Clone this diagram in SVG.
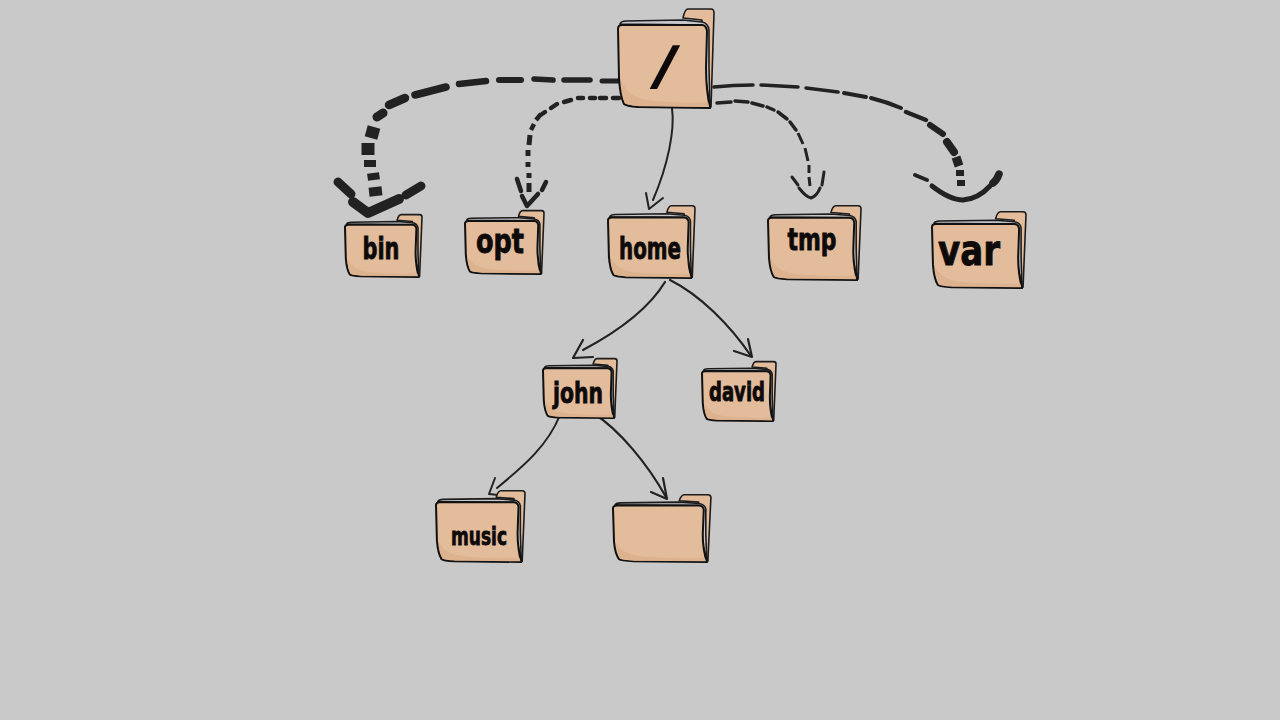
<svg xmlns="http://www.w3.org/2000/svg" width="1280" height="720" viewBox="0 0 1280 720">
<style>
.back{fill:#e3bc9c;stroke:#1c1c1c;stroke-width:1.6;stroke-linejoin:round;vector-effect:non-scaling-stroke}
.page{fill:#c6c6cb;stroke:#1c1c1c;stroke-width:1.6;stroke-linejoin:round;vector-effect:non-scaling-stroke}
.front{fill:#e3bc9c;stroke:#111;stroke-width:2;stroke-linejoin:round;vector-effect:non-scaling-stroke}
.shade{fill:#dcb28f}
.t{font-family:"DejaVu Sans","Liberation Sans",sans-serif;font-stretch:condensed;font-weight:700;fill:#0e0a0a;text-anchor:middle;stroke:#0e0a0a;stroke-width:.8}
#connectors path{fill:none;stroke:#222;stroke-linecap:round;stroke-linejoin:round}
#connectors path.b{stroke-linecap:butt}
</style>
<defs>
<g id="folder">
<path class="back" d="M65 10C66 5 67 1 70 1L93 1Q96 1 96 5L93 99L85 60L84 12Z"/>
<path class="page" d="M2 16Q3 13 8 13L65 12L84 14Q90 15 91 22L91 60L92 100L86 60L84 17Z"/>
<path class="front" d="M0 21Q0 17 4 17L84 17Q88 17 89 23L88 60Q88 82 92 100L20 99Q8 98 6 96Q2 88 1 70Z"/>
<path class="shade" d="M3 72Q10 90 30 92Q60 96 90 94L91 99L20 98Q9 97 7 95Q4 88 3 72Z"/>
</g>
</defs>
<rect width="1280" height="720" fill="#c9c9c9"/>
<g id="connectors">
<g id="c-bin">
<path style="stroke-width:5" d="M619 81L602 81"/><path style="stroke-width:5.5" d="M590 80L564 80"/><path style="stroke-width:5.5" d="M553 80L534 79"/><path style="stroke-width:6" d="M521 80L499 80"/><path style="stroke-width:6.5" d="M486 81L459 84"/><path style="stroke-width:7.5" d="M446 87L415 95"/><path style="stroke-width:8.5" d="M405 98L389 105"/><path style="stroke-width:9" d="M383 113L377 117"/><path class="b" style="stroke-width:13" d="M374 127L371 138"/><path class="b" style="stroke-width:13" d="M368 143L368 155"/><path class="b" style="stroke-width:12" d="M370 160L370 167"/><path class="b" style="stroke-width:12" d="M373 173L374 180"/><path class="b" style="stroke-width:13" d="M375 187L376 196"/>
<path style="stroke-width:9" d="M338 182L351 194"/><path style="stroke-width:10" d="M353 202L368 213L399 199"/><path style="stroke-width:9" d="M406 195L421 186"/>
</g>
<g id="c-opt">
<path style="stroke-width:4.5" d="M619 98L613 98"/><path style="stroke-width:4.5" d="M606 98L600 98"/><path style="stroke-width:4.5" d="M595 98L590 98"/><path style="stroke-width:4.5" d="M583 98L578 98"/><path style="stroke-width:4.5" d="M571 100L564 102"/><path style="stroke-width:4.5" d="M557 104L551 108"/><path style="stroke-width:4.5" d="M545 112L542 114"/><path class="b" style="stroke-width:4.5" d="M541 114L536 120"/><path class="b" style="stroke-width:4.5" d="M534 124L531 130"/><path class="b" style="stroke-width:5" d="M530 135L529 145"/><path class="b" style="stroke-width:5" d="M528 150L528 156"/><path class="b" style="stroke-width:5" d="M528 162L528 167"/><path class="b" style="stroke-width:5" d="M529 173L529 178"/><path class="b" style="stroke-width:5" d="M529 183L529 192"/>
<path style="stroke-width:4.5" d="M517 179L521 191"/><path style="stroke-width:4.5" d="M522 196L527 206L538 194"/><path style="stroke-width:4.5" d="M542 190L546 182"/>
</g>
<g id="c-var">
<path style="stroke-width:3.5" d="M714 87Q733 85 753 85"/><path style="stroke-width:3.5" d="M761 85L798 87"/><path style="stroke-width:3.5" d="M806 88L838 92"/><path style="stroke-width:4" d="M844 93L866 97"/><path style="stroke-width:4" d="M871 98Q887 102 901 108"/><path style="stroke-width:4.5" d="M906 112L926 120"/><path style="stroke-width:6" d="M930 125L943 134"/><path style="stroke-width:8" d="M947 142L954 152"/><path class="b" style="stroke-width:9" d="M956 157L959 166"/><path class="b" style="stroke-width:8" d="M960 170L960 176"/><path class="b" style="stroke-width:8" d="M961 180L961 186"/>
<path style="stroke-width:4" d="M915 175L927 180"/><path style="stroke-width:5" d="M932 186Q950 200 963 200Q978 199 990 186"/><path style="stroke-width:7.5" d="M993 183Q997 180 999 174"/>
</g>
<g id="c-tmp">
<path style="stroke-width:3.5" d="M717 103L731 102"/><path style="stroke-width:3.5" d="M735 101L748 102"/><path style="stroke-width:3.5" d="M752 103L763 106"/><path style="stroke-width:3.5" d="M767 107L774 110"/><path style="stroke-width:3.5" d="M778 112L787 119"/><path style="stroke-width:3.5" d="M790 122L796 130"/><path class="b" style="stroke-width:3" d="M798 133L803 144"/><path class="b" style="stroke-width:3" d="M805 148L808 161"/><path class="b" style="stroke-width:3" d="M809 165L809 173"/><path class="b" style="stroke-width:3" d="M809 177L810 186"/>
<path style="stroke-width:3" d="M792 177L798 185"/><path style="stroke-width:3" d="M799 188Q806 197 811 198Q817 196 820 188"/><path style="stroke-width:3" d="M822 185L824 172"/>
</g>
<g id="c-tree">
<path style="stroke-width:2" d="M672 108C675 130 668 165 653 200"/><path style="stroke-width:2" d="M646 193L649 209L663 198"/>
<path style="stroke-width:2.2" d="M665 282C648 310 615 333 583 350"/><path style="stroke-width:2.2" d="M583 340L573 358L593 357"/>
<path style="stroke-width:2.2" d="M670 280C700 295 730 325 751 356"/><path style="stroke-width:2.2" d="M748 339L752 357L734 351"/>
<path style="stroke-width:2" d="M560 415C548 445 525 465 497 488"/><path style="stroke-width:2" d="M495 478L489 494L498 495"/>
<path style="stroke-width:2.2" d="M593 413C620 430 648 465 666 497"/><path style="stroke-width:2.2" d="M663 478L667 499L651 492"/>
</g>
</g>
<g id="node-root"><use href="#folder" transform="translate(618 8)"/><text class="t" transform="translate(661 83) skewX(-14)" font-size="50" style="stroke-width:2.5">/</text></g>
<g id="node-bin"><use href="#folder" transform="translate(345 214) scale(.802 .63)"/><text class="t" x="381" y="259" font-size="31" textLength="37" lengthAdjust="spacingAndGlyphs">bin</text></g>
<g id="node-opt"><use href="#folder" transform="translate(465 210) scale(.823 .64)"/><text class="t" x="500" y="253" font-size="33" textLength="48" lengthAdjust="spacingAndGlyphs">opt</text></g>
<g id="node-home"><use href="#folder" transform="translate(608 205) scale(.906 .73)"/><text class="t" x="650" y="259" font-size="30" textLength="62" lengthAdjust="spacingAndGlyphs">home</text></g>
<g id="node-tmp"><use href="#folder" transform="translate(768 205) scale(.969 .75)"/><text class="t" x="812" y="250" font-size="30" textLength="49" lengthAdjust="spacingAndGlyphs">tmp</text></g>
<g id="node-var"><use href="#folder" transform="translate(932 211) scale(.979 .77)"/><text class="t" x="969" y="265" font-size="42" textLength="62" lengthAdjust="spacingAndGlyphs">var</text></g>
<g id="node-john"><use href="#folder" transform="translate(543 358) scale(.771 .6)"/><text class="t" x="578" y="403" font-size="29" textLength="50" lengthAdjust="spacingAndGlyphs">john</text></g>
<g id="node-david"><use href="#folder" transform="translate(702 361) scale(.771 .6)"/><text class="t" x="737" y="401" font-size="26" textLength="56" lengthAdjust="spacingAndGlyphs">david</text></g>
<g id="node-music"><use href="#folder" transform="translate(436 490) scale(.927 .72)"/><text class="t" x="479" y="545" font-size="25" textLength="56" lengthAdjust="spacingAndGlyphs">music</text></g>
<g id="node-empty"><use href="#folder" transform="translate(613 494) scale(1.02 .68)"/></g>
</svg>
